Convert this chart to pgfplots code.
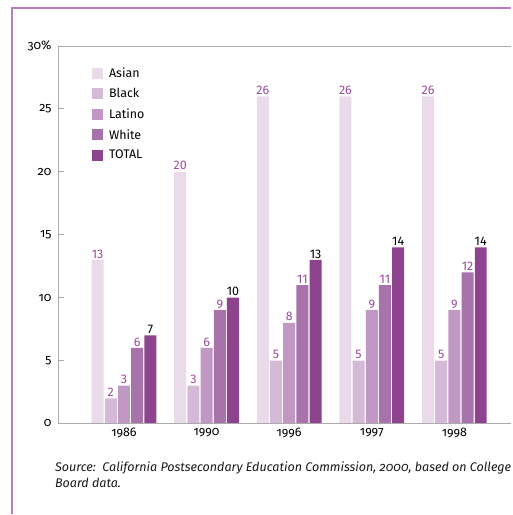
\documentclass[border=0pt]{standalone}
\usepackage{fontspec}
\setmainfont{Fira Sans}[Numbers=OldStyle]
\newfontfamily\lin{Fira Sans}[Numbers=Lining]
\usepackage{pgfplots}
\pgfplotsset{compat=1.18}
\definecolor{cA}{HTML}{E9DBEA}
\definecolor{cB}{HTML}{D5BAD7}
\definecolor{cL}{HTML}{C197C4}
\definecolor{cW}{HTML}{A872AA}
\definecolor{cT}{HTML}{8E438F}
\definecolor{frm}{HTML}{B87DC0}
\definecolor{lab}{HTML}{9A4A9E}
\definecolor{axg}{HTML}{AAAAAA}
\begin{document}
\begin{tikzpicture}[x=1bp,y=1bp]
\path (0,0) rectangle (512,-515);
\draw[frm, line width=1.3bp] (12,-515) -- (12,-8) -- (512,-8);
\begin{axis}[at={(58bp,-46bp)}, anchor=north west, scale only axis,
  width=454bp, height=378bp,
  xmin=-0.8, xmax=4.69, ymin=0, ymax=30,
  ybar=1.2bp, bar width=12bp,
  axis line style={draw=none},
  clip=false,
  xtick={0,1,2,3,4}, xticklabels={1986,1990,1996,1997,1998},
  xtick style={draw=none},
  ytick pos=left,
  ytick={0,5,10,15,20,25,30}, yticklabels={0,5,10,15,20,25,30\%},
  ytick style={axg, line width=0.8bp},
  tick align=inside, major tick length=6bp,
  /pgf/number format/assume math mode=true,
  tick label style={font=\fontsize{12.5}{14}\selectfont, text=black},
  y tick label style={xshift=-3bp},
  x tick label style={yshift=-1bp},
  nodes near coords,
  every node near coord/.append style={font=\lin\fontsize{12.5}{14}\selectfont, text=lab, inner sep=1.5bp},
  legend style={at={(rel axis cs:0.075,0.948)}, anchor=north west, draw=none, fill=none,
    font=\fontsize{12.5}{14}\selectfont, text=black, row sep=5.5bp, inner sep=0pt,
    legend cell align=left,
    nodes={inner xsep=6bp}},
  legend image code/.code={\fill[#1] (0bp,-5.5bp) rectangle (11bp,5.5bp);},
]
\addplot[fill=cA, draw=none] coordinates {(0,13) (1,20) (2,26) (3,26) (4,26)};
\addplot[fill=cB, draw=none] coordinates {(0,2) (1,3) (2,5) (3,5) (4,5)};
\addplot[fill=cL, draw=none] coordinates {(0,3) (1,6) (2,8) (3,9) (4,9)};
\addplot[fill=cW, draw=none] coordinates {(0,6) (1,9) (2,11) (3,11) (4,12)};
\addplot[fill=cT, draw=none, nodes near coords style={text=black}] coordinates {(0,7) (1,10) (2,13) (3,14) (4,14)};
\legend{Asian,Black,Latino,White,TOTAL}
\draw[axg, line width=0.8bp] (rel axis cs:1,1) -- (rel axis cs:0,1) -- (rel axis cs:0,0);
\draw[axg, line width=1.6bp] (rel axis cs:0,0) -- (rel axis cs:1,0);
\end{axis}
\node[anchor=north west, align=left, inner sep=0pt, font=\itshape\fontsize{12.6}{16}\selectfont, text=black!90]
  at (55,-462) {Source:\ \ California Postsecondary Education Commission, 2000, based on College\\Board data.};
\end{tikzpicture}
\end{document}
